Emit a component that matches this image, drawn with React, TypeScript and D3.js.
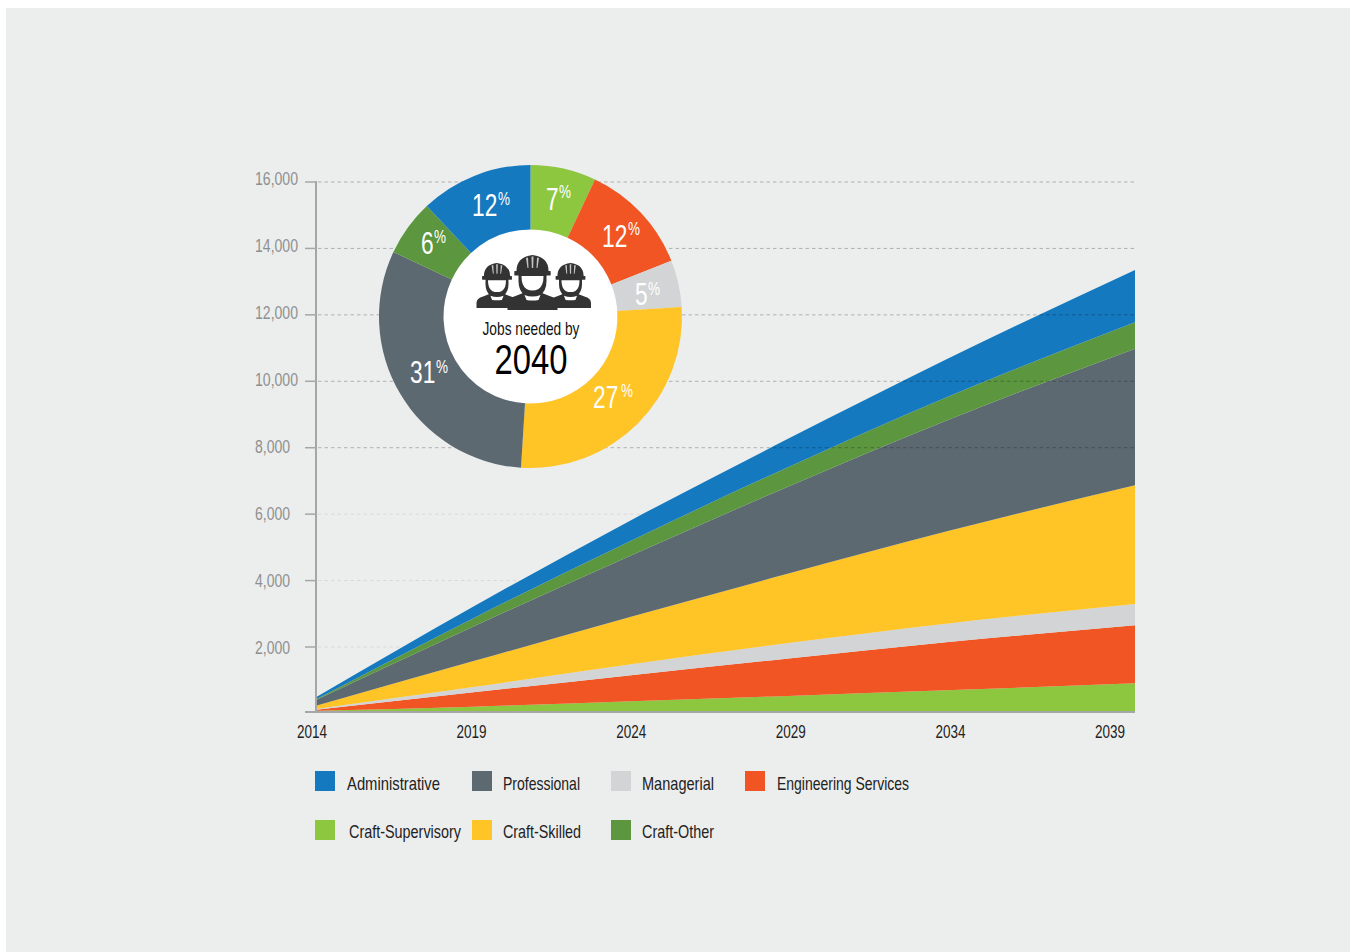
import React from "react";
import * as d3 from "d3";

// Workforce demand by job family, stacked from the baseline upward
const sampleYears = [2014, 2019, 2024, 2029, 2034, 2040];
const craftSupervisory = [81, 202, 370, 527, 695, 906];
const engineeringServices = [30, 436, 783, 1129, 1446, 1746];
const managerial = [21, 160, 328, 461, 560, 642];
const craftSkilled = [100, 777, 1427, 2095, 2776, 3574];
const professional = [171, 1044, 1846, 2623, 3336, 4112];
const craftOther = [22, 250, 446, 587, 701, 795];
const administrative = [60, 350, 617, 852, 1144, 1575];

const stackKeys = ["Craft-Supervisory", "Engineering Services", "Managerial", "Craft-Skilled", "Professional", "Craft-Other", "Administrative"];
const stackValues = [craftSupervisory, engineeringServices, managerial, craftSkilled, professional, craftOther, administrative];

const colors: Record<string, string> = {
  Administrative: "#1479bf",
  Professional: "#5d6971",
  Managerial: "#d2d4d6",
  "Engineering Services": "#f15524",
  "Craft-Supervisory": "#8dc63f",
  "Craft-Skilled": "#ffc425",
  "Craft-Other": "#5c963f",
};

const yTicks = [2000, 4000, 6000, 8000, 10000, 12000, 14000, 16000];
const xTickLabels = ["2014", "2019", "2024", "2029", "2034", "2039"];

// Share of 2040 jobs, clockwise from twelve o'clock
const shareKeys = ["Craft-Supervisory", "Engineering Services", "Managerial", "Craft-Skilled", "Professional", "Craft-Other", "Administrative"];
const shareValues = [7, 12, 5, 27, 31, 6, 12];

// Where each share label sits: number start, baseline, percent start, percent baseline
const shareLabelLayout = [
  [546, 210, 559, 198],
  [602, 247, 628, 235],
  [635, 305, 648, 295],
  [593, 408, 621, 397],
  [410, 383, 436, 373],
  [421, 254, 434, 243],
  [472, 216, 498, 205],
];

const legendRows = [
  [
    { name: "Administrative", sx: 315, tx: 347, w: 93 },
    { name: "Professional", sx: 472, tx: 503, w: 77 },
    { name: "Managerial", sx: 611, tx: 642, w: 72 },
    { name: "Engineering Services", sx: 745, tx: 777, w: 132 },
  ],
  [
    { name: "Craft-Supervisory", sx: 315, tx: 349, w: 112 },
    { name: "Craft-Skilled", sx: 472, tx: 503, w: 78 },
    { name: "Craft-Other", sx: 611, tx: 642, w: 72 },
  ],
];

const FONT = "'Liberation Sans', sans-serif";
const AXIS_GREY = "#a5a7a7";

const x = d3.scaleLinear().domain([2014, 2040]).range([316, 1135]);
const y = d3.scaleLinear().domain([2000, 16000]).range([647, 182]);
const yLabel = d3.scaleLinear().domain([2000, 16000]).range([648, 179]);
const xLabel = d3.scalePoint<string>().domain(xTickLabels).range([312, 1110]);

const rows = sampleYears.map((year, i) => {
  const row: Record<string, number> = { year };
  stackKeys.forEach((k, j) => (row[k] = stackValues[j][i]));
  return row;
});
const layers = d3.stack<Record<string, number>>().keys(stackKeys)(rows);
const areaPath = d3
  .area<d3.SeriesPoint<Record<string, number>>>()
  .curve(d3.curveMonotoneX)
  .x((d) => x(d.data.year))
  .y0((d) => y(d[0]))
  .y1((d) => y(d[1]));

const slices = d3.pie<number>().sort(null).value((d) => d)(shareValues);
const donutArc = d3.arc<d3.PieArcDatum<number>>().innerRadius(87).outerRadius(151.5);

// One hard-hat silhouette, drawn around its own centre line, 55 units tall
function Worker({ cx, top, scale }: { cx: number; top: number; scale: number }) {
  const ink = "#333333";
  return (
    <g transform={`translate(${cx},${top}) scale(${scale})`}>
      <path fill={ink} d="M-25,55 L-25,49 Q-25,43 -17,41 L-7,37 L7,37 L17,41 Q25,43 25,49 L25,55 Z" />
      <path fill={ink} d="M-14,18 L14,18 L14,26 Q14,36 7,41 L-7,41 Q-14,36 -14,26 Z" />
      <path fill="#ffffff" d="M-11,21 L11,21 Q11,31 6,34 Q0,37 -6,34 Q-11,31 -11,21 Z" />
      <path fill="#ffffff" d="M-8,40 Q0,43 8,40 L6,45 Q0,46 -6,45 Z" />
      <path fill={ink} d="M-16,16 Q-16,2 0,0 Q16,2 16,16 L18,16 Q18.500,19 18,20.500 L-18,20.500 Q-18.500,19 -18,16 Z" />
      <path fill="#c4c4c4" d="M-6.500,3 L-4.500,2.500 L-4,13 L-5,13 Z M-1,1.500 L1,1.500 L0.700,13 L-0.700,13 Z M4.500,2.500 L6.500,3 L5,13 L4,13 Z" />
    </g>
  );
}

export default function App() {
  return (
    <svg width={1351} height={952} style={{ position: "fixed", left: 0, top: 0, display: "block", background: "#ffffff" }}>
      <defs>
        <clipPath id="plot-floor">
          <rect x={300} y={100} width={900} height={612} />
        </clipPath>
      </defs>
      <rect x={6} y={8} width={1344} height={944} fill="#eceeed" />

      {/* Faint lower gridlines run behind the areas */}
      {yTicks.filter((t) => t <= 6000).map((t) => (
        <line key={t} x1={318} x2={1135} y1={y(t)} y2={y(t)} stroke="#d8dada" strokeWidth={1} strokeDasharray="3.500 3" />
      ))}

      <g clipPath="url(#plot-floor)">
        {layers.map((layer) => (
          <path key={layer.key} d={areaPath(layer) ?? ""} fill={colors[layer.key]} />
        ))}
      </g>

      {/* Upper gridlines darken whatever they cross */}
      {yTicks.filter((t) => t > 6000).map((t) => (
        <line key={t} x1={318} x2={1135} y1={y(t)} y2={y(t)} stroke="#000000" strokeOpacity={0.26} strokeWidth={1} strokeDasharray="3.500 3" />
      ))}

      {/* Axes */}
      <line x1={316} x2={316} y1={181} y2={712} stroke={AXIS_GREY} strokeWidth={2} />
      <line x1={305} x2={1135} y1={712} y2={712} stroke={AXIS_GREY} strokeWidth={2} />
      {yTicks.map((t) => (
        <g key={t}>
          <line x1={305} x2={316} y1={y(t)} y2={y(t)} stroke={AXIS_GREY} strokeWidth={1.5} />
          <text
            x={255}
            y={yLabel(t) + 6}
            fill="#8e9090"
            fontFamily={FONT}
            fontSize={18}
            textLength={t >= 10000 ? 43 : 35}
            lengthAdjust="spacingAndGlyphs"
          >
            {d3.format(",")(t)}
          </text>
        </g>
      ))}
      {xTickLabels.map((label) => (
        <text
          key={label}
          x={xLabel(label)}
          y={738}
          textAnchor="middle"
          fill="#222222"
          fontFamily={FONT}
          fontSize={18}
          textLength={30}
          lengthAdjust="spacingAndGlyphs"
        >
          {label}
        </text>
      ))}

      {/* Legend */}
      {legendRows.map((row, r) =>
        row.map((item) => (
          <g key={item.name}>
            <rect x={item.sx} y={771 + r * 49} width={20} height={20} fill={colors[item.name]} />
            <text
              x={item.tx}
              y={790 + r * 48}
              fill="#222222"
              fontFamily={FONT}
              fontSize={19}
              textLength={item.w}
              lengthAdjust="spacingAndGlyphs"
            >
              {item.name}
            </text>
          </g>
        ))
      )}

      {/* Donut of 2040 shares */}
      <g transform="translate(530.5,316.5)">
        <circle r={87} fill="#ffffff" />
        {slices.map((s, i) => (
          <path key={shareKeys[i]} d={donutArc(s) ?? ""} fill={colors[shareKeys[i]]} />
        ))}
      </g>
      {slices.map((s, i) => {
        const [nx, ny, px, py] = shareLabelLayout[i];
        return (
          <g key={shareKeys[i]} fill="#ffffff" fontFamily={FONT}>
            {/* Digits are squeezed horizontally to a condensed width */}
            <text transform={`translate(${nx},${ny}) scale(0.71,1)`} fontSize={32}>
              {s.data}
            </text>
            <text transform={`translate(${px},${py}) scale(0.71,1)`} fontSize={19}>
              %
            </text>
          </g>
        );
      })}

      <Worker cx={497} top={263} scale={0.82} />
      <Worker cx={570.5} top={263} scale={0.82} />
      <Worker cx={532.5} top={255} scale={1} />

      <text x={531} y={334.500} textAnchor="middle" fill="#111111" fontFamily={FONT} fontSize={18.5} textLength={97} lengthAdjust="spacingAndGlyphs">
        Jobs needed by
      </text>
      <text x={531} y={374} textAnchor="middle" fill="#000000" fontFamily={FONT} fontSize={42} textLength={73} lengthAdjust="spacingAndGlyphs">
        2040
      </text>
    </svg>
  );
}
